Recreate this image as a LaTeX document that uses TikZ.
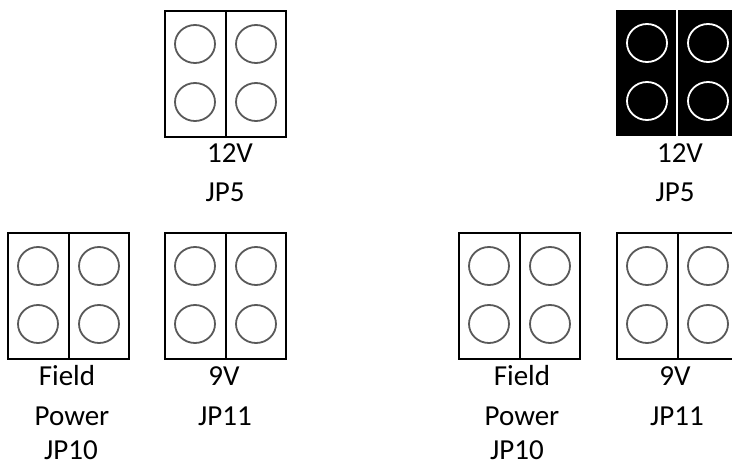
\documentclass[tikz,border=0pt]{standalone}
\usepackage{fontspec}
\setmainfont{Carlito}
\begin{document}
\begin{tikzpicture}[x=1pt,y=-1pt,
  lbl/.style={font=\fontsize{29}{32}\selectfont, text=black, inner sep=0pt, anchor=center},
  pins/.style={draw=black!65, line width=1.8pt},
  frame/.style={draw=black, line width=1.6pt},
  jumper/.pic={
    \draw[frame] (0,0) rectangle (121,126);
    \draw[frame] (61,0) -- (61,126);
    \foreach \cx in {30,91}{\foreach \cy in {33,91}{
      \draw[pins] (\cx,\cy) ellipse [x radius=20, y radius=19];}}
  },
  jumperon/.pic={
    \fill[black] (0,0) rectangle (121,126);
    \draw[white, line width=2pt] (61,0) -- (61,126);
    \foreach \cx in {31,92}{\foreach \cy in {33,91}{
      \draw[white, line width=1.8pt] (\cx,\cy) ellipse [x radius=20, y radius=19];}}
  }]
\useasboundingbox (0,0) rectangle (732,466);
\clip (0,0) rectangle (732,466);
% left set
\pic at (165,11) {jumper};
\node[lbl] (a12v) at (230,153) {12V};
\node[lbl] (ajp5) at (225,192) {JP5};
\pic at (8,233) {jumper};
\node[lbl] (afield) at (67,376) {Field};
\node[lbl] (apower) at (72,416) {Power};
\node[lbl] (ajp10) at (71,450) {JP10};
\pic at (165,233) {jumper};
\node[lbl] (a9v) at (224,376) {9V};
\node[lbl] (ajp11) at (225,416) {JP11};
% right set
\pic at (616,10) {jumperon};
\node[lbl] (b12v) at (680,153) {12V};
\node[lbl] (bjp5) at (675,192) {JP5};
\pic at (459,233) {jumper};
\node[lbl] (bfield) at (522,376) {Field};
\node[lbl] (bpower) at (522,416) {Power};
\node[lbl] (bjp10) at (517,450) {JP10};
\pic at (617,233) {jumper};
\node[lbl] (b9v) at (675,376) {9V};
\node[lbl] (bjp11) at (677,416) {JP11};
\end{tikzpicture}
\end{document}
